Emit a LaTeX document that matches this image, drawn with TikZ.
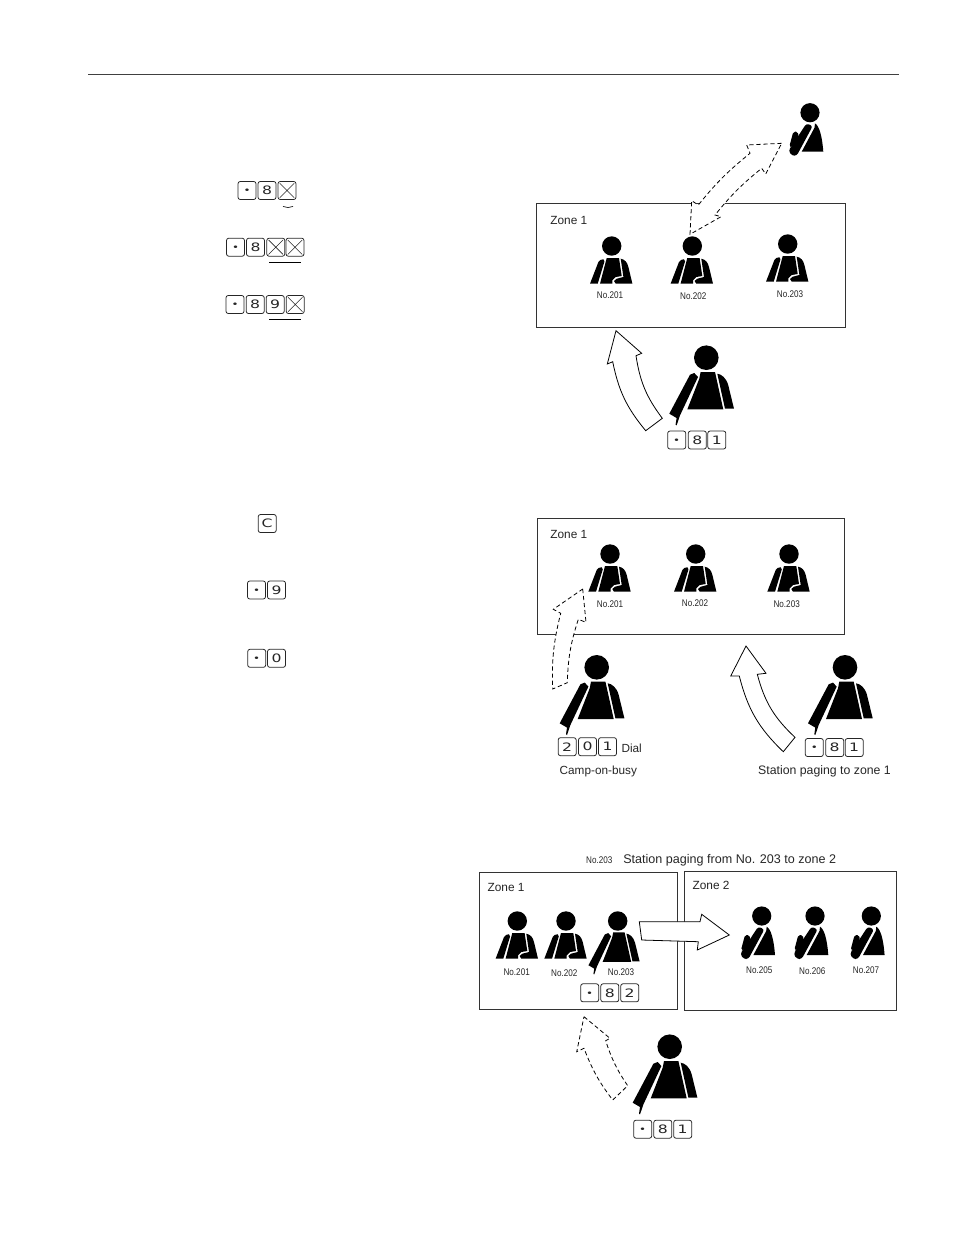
\documentclass[tikz,border=0pt]{standalone}
\usepackage{fontspec}
\setmainfont{Liberation Sans}
\newfontfamily\keyfont[FakeStretch=1.35]{DejaVu Sans}
\newfontfamily\nofont[FakeStretch=0.84]{Liberation Sans}
\usepackage{tikz}
\usetikzlibrary{calc}

\newcommand{\keydot}{{\fontsize{5}{5}\selectfont\raisebox{-1.85pt}[0pt][0pt]{\textbullet}}}

\tikzset{
  zonebox/.style={draw, line width=0.5pt, black!80, fill=white},
  blockarrow/.style={draw, line width=0.45pt, fill=white, line join=miter},
  dasharrow/.style={blockarrow, dash pattern=on 2.4pt off 1.6pt},
  keycap/.style={draw, line width=0.45pt, black!85, rounded corners=1.2pt, minimum width=10.2pt, minimum height=10.2pt, inner sep=0pt, font=\keyfont\fontsize{6.6}{7}\selectfont},
  crosskey/.style={keycap, path picture={\draw[line width=0.35pt] ($(path picture bounding box.south west)+(1pt,1pt)$) -- ($(path picture bounding box.north east)+(-1pt,-1pt)$) ($(path picture bounding box.north west)+(1pt,-1pt)$) -- ($(path picture bounding box.south east)+(-1pt,1pt)$);}},
  zonetext/.style={font=\fontsize{6.75}{8}\selectfont, inner sep=0pt, black!85},
  notext/.style={font=\nofont\fontsize{5.5}{6}\selectfont, inner sep=0pt, black!85},
  captext/.style={font=\fontsize{6.7}{8}\selectfont, inner sep=0pt, black!85},
  widetext/.style={font=\fontsize{7}{8}\selectfont, inner sep=0pt, black!85},
  listener/.pic={
    \fill (0,0) circle (9.7);
    \fill (-21.7,37.7) -- (-13.3,16) [rounded corners=1pt] -- (-10,12.7) -- (-6.7,13.7) [sharp corners] -- (-14,37.7) -- cycle;
    \fill (-5,12) -- (7.3,12) -- (10,30) -- (4,31) -- (0.7,34.3) -- (0.7,37.7) -- (-11.7,37.7) -- cycle;
    \fill (9,12.7) .. controls (13,13.5) and (15.5,16) .. (16.7,21) -- (20.7,37.7) -- (4,37.7) -- (2.3,35) -- (5,32.7) -- (11.7,31) -- cycle;
  },
  talker/.pic={
    \fill (0,0) circle (12.3);
    \fill (-16.3,17) -- (-12,15.3) -- (-8.3,19.3) -- (-26.3,57.7) -- (-29.7,67.7) -- (-30.7,67) -- (-29.7,60.3) -- (-37,56) -- cycle;
    \fill (-5.7,14.3) -- (8.7,14.3) -- (17,51.7) -- (-19,51.7) -- (-7,21) -- cycle;
    \fill (11,16) .. controls (15,16.5) and (20,20) .. (22,27.7) -- (27.7,51) -- (18.7,51) -- cycle;
  },
  caller/.pic={
    \fill (0,0) circle (9.6);
    \fill (5,10.7) .. controls (9,13) and (12,22) .. (13.3,39) -- (-8.3,39) -- (4.5,15) -- cycle;
    \fill[rounded corners=1.5pt] (-3.5,10.7) -- (2.7,13.3) -- (-13.3,43) -- (-18,43) -- (-21.5,38) -- cycle;
    \fill[rounded corners=1pt] (-16.7,19) -- (-12.3,19) -- (-11.3,24) -- (-18.3,34.7) -- (-20.7,34) -- cycle;
  },
}

\begin{document}
\begin{tikzpicture}[x=0.02cm,y=-0.02cm]
\useasboundingbox (0,0) rectangle (954,1235);
\draw[line width=0.5pt, black!75] (88,74) -- (899,74);

% keys on the left
\node[keycap] (a1) at (247,190.5) {\keydot};
\node[keycap] (a2) at (267,190.5) {8};
\node[crosskey] (a3) at (287,190.5) {};
\draw[line width=0.35pt] (283,206.5) -- (288,207.5) -- (293,206.5);
\node[keycap] (b1) at (235.5,247.2) {\keydot};
\node[keycap] (b2) at (255.5,247.2) {8};
\node[crosskey] (b3) at (275.8,247.2) {};
\node[crosskey] (b4) at (295,247.2) {};
\draw[line width=0.35pt] (269.3,262.3) -- (300.7,262.3);
\node[keycap] (c1) at (235,304.5) {\keydot};
\node[keycap] (c2) at (255.2,304.5) {8};
\node[keycap] (c3) at (275.2,304.5) {9};
\node[crosskey] (c4) at (295.2,304.5) {};
\draw[line width=0.35pt] (269.3,319.7) -- (300.7,319.7);
\node[keycap] (d1) at (267.2,523.5) {C};
\node[keycap] (e1) at (256.5,590) {\keydot};
\node[keycap] (e2) at (276.5,590) {9};
\node[keycap] (f1) at (256.7,658.3) {\keydot};
\node[keycap] (f2) at (276.5,658.3) {0};

% upper panel
\draw[zonebox] (536.7,203.3) rectangle (845.7,327.7);
\node[zonetext, anchor=west] (zoneA) at (550,220.7) {Zone 1};
\pic (pA1) at (611.7,246) {listener};
\pic (pA2) at (692.3,246) {listener};
\pic (pA3) at (787.7,244) {listener};
\node[notext] (nA1) at (610,295) {No.201};
\node[notext] (nA2) at (693.3,296) {No.202};
\node[notext] (nA3) at (790,294.3) {No.203};
\pic (pA4) at (810,112.7) {caller};
\pic (pA5) at (706.3,357.7) {talker};
\draw[dasharrow] (781.7,143.3) -- (746.7,145) -- (750,153.3) to[bend right=6] (698.3,205) -- (691.7,200.7) -- (690,234.3) -- (721,216.7) -- (715,215) to[bend left=6] (761.7,168.3) -- (765.7,174) -- cycle;
\draw[blockarrow] (616,330.7) -- (641.7,353.3) -- (636,355.7) to[bend right=14] (662.3,418.3) -- (645.7,430.7) to[bend left=14] (612.7,361.7) -- (607.3,364) -- cycle;
\node[keycap] (g1) at (676.7,440) {\keydot};
\node[keycap] (g2) at (697.3,440) {8};
\node[keycap] (g3) at (716.8,440) {1};

% middle panel
\draw[zonebox] (537.3,518.3) rectangle (844,634.3);
\node[zonetext, anchor=west] (zoneB) at (550,534) {Zone 1};
\pic (pB1) at (610,554) {listener};
\pic (pB2) at (695.7,554) {listener};
\pic (pB3) at (789,554) {listener};
\node[notext] (nB1) at (610,604.3) {No.201};
\node[notext] (nB2) at (695,603.3) {No.202};
\node[notext] (nB3) at (786.7,604) {No.203};
\draw[dasharrow] (582.7,589) -- (586,622.3) -- (578.3,619.3) to[bend right=8] (567.3,682.7) -- (552.7,689) to[bend left=8] (560.7,613.3) -- (553.3,609.3) -- cycle;
\draw[blockarrow] (746,646) -- (766,673.3) -- (757.3,674.3) to[bend right=16] (795,737.3) -- (783.3,751.7) to[bend left=16] (739.3,676) -- (730.7,676) -- cycle;
\pic (pB4) at (596.7,667.3) {talker};
\pic (pB5) at (845,667.3) {talker};
\node[keycap] (h1) at (567.2,746.7) {2};
\node[keycap] (h2) at (587.5,746.7) {0};
\node[keycap] (h3) at (607.5,746.7) {1};
\node[captext] (dial) at (631.7,748.3) {Dial};
\node[captext] (camp) at (598.3,771) {Camp-on-busy};
\node[keycap] (i1) at (814.3,747.5) {\keydot};
\node[keycap] (i2) at (834.7,747.5) {8};
\node[keycap] (i3) at (854.2,747.5) {1};
\node[widetext] (paging) at (824.5,771) {Station paging to zone 1};

% lower panel
\node[notext] (nC0) at (599.3,860) {No.203};
\node[widetext, anchor=west] (fromto) at (623,860) {\fontsize{7.15}{8}\selectfont Station paging from No. 203 to zone 2};
\draw[zonebox] (479,872.3) rectangle (677.3,1009.7);
\draw[zonebox] (684,871.7) rectangle (896.7,1010);
\node[zonetext, anchor=west] (zoneC) at (487.3,887.7) {Zone 1};
\node[zonetext, anchor=west] (zoneD) at (692.3,885) {Zone 2};
\pic (pC1) at (517.3,921) {listener};
\pic (pC2) at (566,921) {listener};
\pic[scale=0.79] (pC3) at (617.7,921) {talker};
\pic (pD1) at (761.7,916) {caller};
\pic (pD2) at (815,916) {caller};
\pic (pD3) at (871.3,916) {caller};
\node[notext] (nC1) at (516.7,972.3) {No.201};
\node[notext] (nC2) at (564.3,973.3) {No.202};
\node[notext] (nC3) at (621,971.7) {No.203};
\node[notext] (nD1) at (759.3,970) {No.205};
\node[notext] (nD2) at (812.3,970.7) {No.206};
\node[notext] (nD3) at (866,970) {No.207};
\draw[blockarrow] (639.3,921.7) -- (700,921.7) -- (701.7,914.3) -- (729.3,935) -- (697.3,950) -- (698.3,941.7) -- (641.7,940) -- cycle;
\node[keycap] (j1) at (589.7,992.8) {\keydot};
\node[keycap] (j2) at (609.8,992.8) {8};
\node[keycap] (j3) at (629.7,992.8) {2};
\draw[dasharrow] (584,1016.7) -- (610,1038.3) -- (605.7,1040.7) to[bend right=8] (627.7,1085.7) -- (612.7,1100) to[bend left=8] (584,1048.3) -- (576.7,1051.7) -- cycle;
\pic (pC4) at (669.7,1046.7) {talker};
\node[keycap] (k1) at (642.7,1129.2) {\keydot};
\node[keycap] (k2) at (662.8,1129.2) {8};
\node[keycap] (k3) at (682.7,1129.2) {1};
\end{tikzpicture}
\end{document}
